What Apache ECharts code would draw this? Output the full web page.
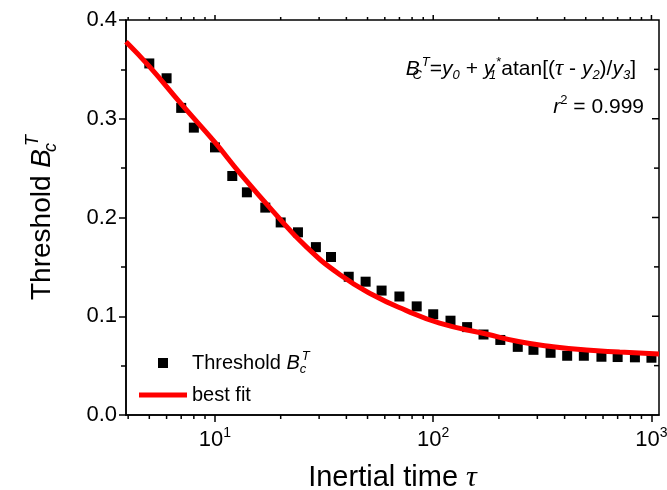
<!DOCTYPE html>
<html>
<head>
<meta charset="utf-8">
<script src="https://cdn.jsdelivr.net/npm/echarts@6/dist/echarts.min.js"></script>
<style>
html,body{margin:0;padding:0;background:#fff;}
#chart{width:667px;height:490px;}
</style>
</head>
<body>
<div id="chart"></div>
<script>
// measured threshold points
var tauData = [5, 6, 7, 8, 10, 12, 14, 17, 20, 24, 29, 34, 41, 49, 58, 70, 84, 100,
	120, 143, 170, 203, 244, 288, 345, 411, 490, 590, 700, 840, 1000];
var bData = [0.356, 0.341, 0.311, 0.291, 0.271, 0.242, 0.2255, 0.210, 0.195, 0.185, 0.170, 0.160,
	0.140, 0.135, 0.126, 0.120, 0.110, 0.102, 0.0955, 0.089, 0.0815, 0.076, 0.069, 0.066,
	0.063, 0.060, 0.060, 0.059, 0.0587, 0.0584, 0.058];
// red fit line
var tauFit = [3.91, 5, 7, 10, 13, 18.5, 26.3, 37.4, 53, 75, 107, 175, 249, 354, 503, 715, 1083];
var bFit = [0.378, 0.353, 0.315, 0.276, 0.245, 0.206, 0.170, 0.142, 0.1215, 0.106, 0.093,
	0.082, 0.0742, 0.0692, 0.0658, 0.0638, 0.0618];
// axis ranges / ticks
var xMin = 3.91, xMax = 1083;
var majorTau = [10, 100, 1000];
var minorTau = [4, 5, 6, 7, 8, 9, 20, 30, 40, 50, 60, 70, 80, 90, 200, 300, 400, 500, 600, 700, 800, 900];
var yMinor = [0.05, 0.1, 0.15, 0.2, 0.25, 0.3, 0.35];

var FONT = 'Liberation Sans';
var chart = echarts.init(document.getElementById('chart'));

function pairs(xs, ys){
	var out = [];
	for (var i = 0; i < xs.length; i++) out.push([xs[i], ys[i]]);
	return out;
}

// rich text styles for sub/superscripts
var subsup = {
	n: {fontFamily: FONT, fontSize: 21, lineHeight: 26, color: '#000'},
	i: {fontFamily: FONT, fontSize: 21, lineHeight: 26, fontStyle: 'italic', color: '#000'},
	t: {fontFamily: 'Liberation Serif', fontSize: 23, lineHeight: 26, fontStyle: 'italic', color: '#000'},
	sb: {fontFamily: FONT, fontSize: 13, lineHeight: 12, fontStyle: 'italic', verticalAlign: 'bottom', color: '#000'},
	sbn: {fontFamily: FONT, fontSize: 13, lineHeight: 12, fontStyle: 'italic', verticalAlign: 'bottom', color: '#000', width: 2},
	sp: {fontFamily: FONT, fontSize: 13, lineHeight: 12, fontStyle: 'italic', verticalAlign: 'top', color: '#000'},
	spn: {fontFamily: FONT, fontSize: 13, lineHeight: 12, verticalAlign: 'top', color: '#000'}
};
var legendRich = {
	n: {fontFamily: FONT, fontSize: 20, lineHeight: 26, color: '#000'},
	i: {fontFamily: FONT, fontSize: 20, lineHeight: 26, fontStyle: 'italic', color: '#000'},
	sbn: {fontFamily: FONT, fontSize: 13, lineHeight: 12, fontStyle: 'italic', verticalAlign: 'bottom', color: '#000', width: 2},
	sp: {fontFamily: FONT, fontSize: 13, lineHeight: 12, fontStyle: 'italic', verticalAlign: 'top', color: '#000'}
};

var option = {
	animation: false,
	backgroundColor: '#fff',
	grid: {left: 126, right: 8, top: 20, bottom: 75, outerBoundsMode: 'none',
		show: true, borderColor: '#000', borderWidth: 1.5, backgroundColor: 'transparent'},
	legend: {
		left: 139, top: 350, padding: 0,
		orient: 'vertical',
		itemWidth: 48, itemHeight: 10, itemGap: 9,
		textStyle: {fontFamily: FONT, fontSize: 20, color: '#000', rich: legendRich},
		data: [
			{name: 'Threshold', icon: 'path://M0,0L10,0L10,10L0,10Z'},
			{name: 'best fit', icon: 'path://M0,0L48,0L48,5L0,5Z'}
		],
		formatter: function(name){
			if (name == 'Threshold') return '{n|Threshold }{i|B}{sbn|c}{sp|T}';
			return '{n|best fit}';
		}
	},
	xAxis: [{
		type: 'log', logBase: 10, min: xMin, max: xMax,
		position: 'bottom',
		name: 'Inertial time {g|τ}',
		nameLocation: 'middle', nameGap: 48,
		nameTextStyle: {fontFamily: FONT, fontSize: 29, color: '#000',
			rich: {g: {fontFamily: 'Liberation Serif', fontStyle: 'italic', fontSize: 30, color: '#000'}}},
		axisLine: {show: true, onZero: false, lineStyle: {color: '#000', width: 1.5}},
		axisTick: {show: true, length: 7, lineStyle: {color: '#000', width: 1.5}},
		axisLabel: {
			showMinLabel: false, showMaxLabel: false, margin: 11,
			formatter: function(v){
				return '{b|10}{s|' + Math.round(Math.log10(v)) + '}';
			},
			rich: {
				b: {fontFamily: FONT, fontSize: 22, lineHeight: 28, color: '#000'},
				s: {fontFamily: FONT, fontSize: 14, lineHeight: 13, verticalAlign: 'top', color: '#000'}
			}
		},
		splitLine: {show: false}
	}],
	yAxis: [{
		type: 'value', min: 0, max: 0.4, interval: 0.1,
		name: 'Threshold {i|B}{sbn|c}{sp|T}',
		nameLocation: 'middle', nameRotate: 90, nameGap: 66,
		nameTextStyle: {fontFamily: FONT, fontSize: 28, color: '#000',
			rich: {
				n: {fontFamily: FONT, fontSize: 28, lineHeight: 36, color: '#000'},
				i: {fontFamily: FONT, fontSize: 28, lineHeight: 36, fontStyle: 'italic', color: '#000'},
				sbn: {fontFamily: FONT, fontSize: 18, lineHeight: 17, fontStyle: 'italic', verticalAlign: 'bottom', color: '#000', width: 3},
				sp: {fontFamily: FONT, fontSize: 18, lineHeight: 17, fontStyle: 'italic', verticalAlign: 'top', color: '#000'}
			}},
		axisLine: {show: true, onZero: false, lineStyle: {color: '#000', width: 1.5}},
		axisTick: {show: true, length: 7, lineStyle: {color: '#000', width: 1.5}},
		minorTick: {show: true, splitNumber: 2, length: 5, lineStyle: {color: '#000', width: 1.5}},
		axisLabel: {fontFamily: FONT, fontSize: 22, color: '#000', margin: 9,
			formatter: function(v){ return v.toFixed(1); }},
		splitLine: {show: false}
	}],
	series: [{
		name: 'Threshold',
		type: 'scatter',
		symbol: 'rect', symbolSize: 10,
		itemStyle: {color: '#000', opacity: 1},
		data: pairs(tauData, bData),
		z: 3
	}, {
		name: 'best fit',
		type: 'line',
		smooth: true,
		showSymbol: false, symbol: 'none',
		lineStyle: {color: '#ff0000', width: 5},
		itemStyle: {color: '#ff0000'},
		data: pairs(tauFit, bFit),
		z: 4
	}]
};
chart.setOption(option);

// ticks on the top/right frame, minor log ticks, and the fit equation
function addGraphics(){
	var yb = chart.convertToPixel({yAxisIndex: 0}, 0);
	var yt = chart.convertToPixel({yAxisIndex: 0}, 0.4);
	var xr = chart.convertToPixel({xAxisIndex: 0}, xMax);
	var tk = {stroke: '#000', lineWidth: 1.5};
	var els = [];
	function seg(x1, y1, x2, y2){
		els.push({type: 'line', silent: true, z: 10, shape: {x1: x1, y1: y1, x2: x2, y2: y2}, style: tk});
	}
	minorTau.forEach(function(v){
		var x = chart.convertToPixel({xAxisIndex: 0}, v);
		seg(x, yb, x, yb + 4);
		seg(x, yt, x, yt - 3);
	});
	majorTau.forEach(function(v){
		var x = chart.convertToPixel({xAxisIndex: 0}, v);
		seg(x, yt, x, yt - 5);
	});
	yMinor.forEach(function(v, i){
		var y = chart.convertToPixel({yAxisIndex: 0}, v);
		seg(xr, y, xr - (i % 2 ? 7 : 5), y);
	});
	els.push({type: 'text', x: 636, y: 82, silent: true,
		style: {
			text: '{i|B}{sbn|C}{sp|T}{n|=}{i|y}{sb|0}{n| + }{i|y}{sbn|1}{spn|*}{n|atan[(}{t|τ}{n| - }{i|y}{sb|2}{n|)/}{i|y}{sb|3}{n|]}',
			rich: subsup, align: 'right', verticalAlign: 'bottom'
		}});
	els.push({type: 'text', x: 644, y: 120, silent: true,
		style: {
			text: '{i|r}{spn|2}{n| = 0.999}',
			rich: subsup, align: 'right', verticalAlign: 'bottom'
		}});
	chart.setOption({graphic: els});
}
addGraphics();
</script>
</body>
</html>
